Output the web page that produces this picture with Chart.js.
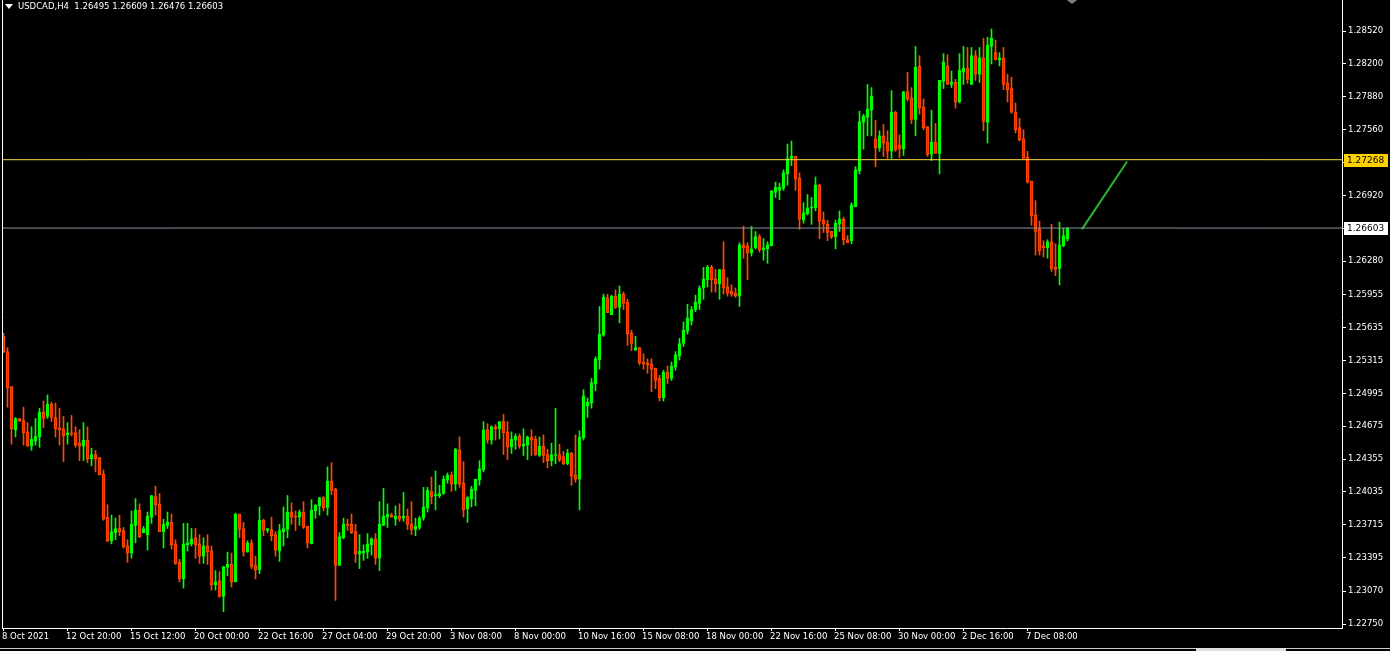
<!DOCTYPE html>
<html>
<head>
<meta charset="utf-8">
<script src="https://cdn.jsdelivr.net/npm/chart.js@4.4.1/dist/chart.umd.min.js"></script>
<style>
  html, body { margin: 0; padding: 0; background: #000; overflow: hidden; }
  #wrap { position: relative; width: 1390px; height: 651px; }
</style>
</head>
<body>
<div id="wrap"><canvas id="chart" width="1390" height="651"></canvas></div>
<script>
const symbolTitle = 'USDCAD,H4';

// H4 candles, oldest first
const opens = [
  1.2555,1.2540,1.2506,1.2464,1.2475,1.2473,1.2462,1.2448,1.2453,1.2457,
  1.2481,1.2477,1.2489,1.2476,1.2466,1.2465,1.2459,1.2461,1.2461,1.2451,
  1.2448,1.2454,1.2436,1.2440,1.2437,1.2421,1.2379,1.2356,1.2364,1.2368,
  1.2366,1.2351,1.2344,1.2371,1.2386,1.2364,1.2362,1.2379,1.2399,1.2392,
  1.2365,1.2371,1.2374,1.2353,1.2335,1.2319,1.2352,1.2353,1.2359,1.2353,
  1.2341,1.2351,1.2346,1.2313,1.2317,1.2302,1.2330,1.2333,1.2316,1.2382,
  1.2368,1.2345,1.2354,1.2332,1.2328,1.2376,1.2366,1.2367,1.2362,1.2346,
  1.2365,1.2367,1.2384,1.2380,1.2379,1.2384,1.2370,1.2353,1.2385,1.2390,
  1.2398,1.2388,1.2414,1.2406,1.2332,1.2359,1.2372,1.2372,1.2365,1.2343,
  1.2344,1.2345,1.2352,1.2358,1.2339,1.2371,1.2379,1.2381,1.2377,1.2380,
  1.2378,1.2380,1.2372,1.2367,1.2369,1.2378,1.2388,1.2404,1.2400,1.2400,
  1.2402,1.2415,1.2420,1.2411,1.2444,1.2412,1.2387,1.2397,1.2405,1.2415,
  1.2425,1.2464,1.2454,1.2467,1.2465,1.2472,1.2462,1.2447,1.2454,1.2458,
  1.2448,1.2449,1.2457,1.2455,1.2439,1.2448,1.2440,1.2434,1.2439,1.2440,
  1.2438,1.2431,1.2441,1.2420,1.2416,1.2456,1.2487,1.2490,1.2509,1.2532,
  1.2556,1.2592,1.2576,1.2594,1.2583,1.2596,1.2588,1.2558,1.2542,1.2544,
  1.2530,1.2529,1.2528,1.2524,1.2514,1.2495,1.2520,1.2514,1.2525,1.2536,
  1.2548,1.2560,1.2570,1.2581,1.2587,1.2602,1.2610,1.2622,1.2611,1.2606,
  1.2620,1.2603,1.2599,1.2597,1.2594,1.2644,1.2643,1.2636,1.2641,1.2652,
  1.2639,1.2640,1.2643,1.2695,1.2697,1.2699,1.2713,1.2728,1.2730,1.2709,
  1.2668,1.2674,1.2680,1.2680,1.2702,1.2668,1.2664,1.2657,1.2652,1.2664,
  1.2669,1.2649,1.2648,1.2681,1.2716,1.2763,1.2768,1.2775,1.2747,1.2738,
  1.2750,1.2744,1.2735,1.2773,1.2741,1.2737,1.2793,1.2787,1.2766,1.2818,
  1.2778,1.2759,1.2732,1.2744,1.2733,1.2803,1.2818,1.2800,1.2802,1.2783,
  1.2812,1.2816,1.2800,1.2828,1.2810,1.2826,1.2763,1.2837,1.2831,1.2824,
  1.2826,1.2801,1.2796,1.2773,1.2758,1.2747,1.2729,1.2706,1.2673,1.2659,
  1.2643,1.2641,1.2647,1.2622,1.2621,1.2643,1.26495
];
const highs = [
  1.2558,1.2544,1.2506,1.2476,1.2475,1.2486,1.2471,1.2467,1.2475,1.2485,
  1.2492,1.2498,1.2491,1.2490,1.2485,1.2477,1.2471,1.2478,1.2467,1.2464,
  1.2471,1.2467,1.2446,1.2444,1.2437,1.2425,1.2391,1.2381,1.2378,1.2381,
  1.2369,1.2357,1.2385,1.2397,1.2392,1.2370,1.2384,1.2400,1.2409,1.2402,
  1.2377,1.2384,1.2382,1.2357,1.2338,1.2373,1.2373,1.2368,1.2368,1.2362,
  1.2359,1.2362,1.2351,1.2327,1.2326,1.2331,1.2345,1.2344,1.2383,1.2382,
  1.2374,1.2356,1.2357,1.2341,1.2389,1.2377,1.2368,1.2379,1.2365,1.2372,
  1.2389,1.2400,1.2393,1.2385,1.2386,1.2394,1.2370,1.2396,1.2391,1.2398,
  1.2399,1.2428,1.2432,1.2407,1.2364,1.2378,1.2377,1.2382,1.2372,1.2362,
  1.2352,1.2363,1.2359,1.2363,1.2394,1.2407,1.2392,1.2383,1.2390,1.2392,
  1.2403,1.2387,1.2394,1.2378,1.2380,1.2408,1.2408,1.2418,1.2424,1.2410,
  1.2419,1.2422,1.2423,1.2446,1.2457,1.2433,1.2399,1.2409,1.2416,1.2434,
  1.2472,1.2470,1.2468,1.2469,1.2472,1.2479,1.2472,1.2462,1.2460,1.2460,
  1.2465,1.2458,1.2464,1.2458,1.2457,1.2459,1.2445,1.2451,1.2485,1.2450,
  1.2443,1.2445,1.2442,1.2459,1.2463,1.2503,1.2495,1.2514,1.2535,1.2584,
  1.2596,1.2596,1.2595,1.2600,1.2604,1.2598,1.2591,1.2561,1.2555,1.2544,
  1.2538,1.2533,1.2533,1.2524,1.2517,1.2522,1.2526,1.2530,1.2540,1.2553,
  1.2569,1.2586,1.2584,1.2595,1.2604,1.2622,1.2624,1.2624,1.2620,1.2620,
  1.2647,1.2612,1.2605,1.2602,1.2646,1.2662,1.2646,1.2662,1.2657,1.2654,
  1.2650,1.2647,1.2697,1.2705,1.2704,1.2717,1.2742,1.2745,1.2730,1.2714,
  1.2685,1.2693,1.2690,1.2710,1.2703,1.2676,1.2668,1.2657,1.2668,1.2677,
  1.2671,1.2653,1.2685,1.2720,1.2774,1.2771,1.2800,1.2797,1.2765,1.2755,
  1.2761,1.2755,1.2794,1.2774,1.2751,1.2793,1.2812,1.2797,1.2837,1.2828,
  1.2786,1.2759,1.2775,1.2762,1.2804,1.2830,1.2829,1.2813,1.2805,1.2830,
  1.2837,1.2836,1.2836,1.2833,1.2836,1.2845,1.2846,1.2854,1.2843,1.2831,
  1.2836,1.2810,1.2807,1.2782,1.2767,1.2756,1.2735,1.2706,1.2687,1.2667,
  1.2648,1.2649,1.2664,1.2645,1.2666,1.2660,1.26609
];
const lows = [
  1.2539,1.2486,1.2450,1.2457,1.2472,1.2449,1.2448,1.2444,1.2449,1.2447,
  1.2466,1.2475,1.2472,1.2457,1.2449,1.2433,1.2450,1.2458,1.2447,1.2434,
  1.2434,1.2432,1.2429,1.2423,1.2420,1.2376,1.2355,1.2353,1.2357,1.2361,
  1.2349,1.2335,1.2339,1.2354,1.2359,1.2364,1.2347,1.2373,1.2381,1.2365,
  1.2349,1.2368,1.2348,1.2333,1.2316,1.2310,1.2346,1.2351,1.2339,1.2334,
  1.2334,1.2333,1.2308,1.2308,1.2301,1.2287,1.2322,1.2311,1.2316,1.2359,
  1.2341,1.2345,1.2329,1.2319,1.2324,1.2361,1.2364,1.2356,1.2341,1.2336,
  1.2351,1.2359,1.2372,1.2366,1.2371,1.2368,1.2349,1.2353,1.2378,1.2381,
  1.2385,1.2381,1.2401,1.2298,1.2332,1.2358,1.2366,1.2363,1.2335,1.2329,
  1.2337,1.2339,1.2342,1.2333,1.2327,1.2371,1.2369,1.2379,1.2371,1.2375,
  1.2375,1.2367,1.2362,1.2361,1.2367,1.2376,1.2384,1.2392,1.2386,1.2398,
  1.2401,1.2412,1.2404,1.2405,1.2408,1.2379,1.2374,1.2389,1.2390,1.2410,
  1.2423,1.2451,1.2450,1.2454,1.2455,1.2440,1.2435,1.2441,1.2445,1.2446,
  1.2439,1.2435,1.2439,1.2439,1.2438,1.2432,1.2427,1.2429,1.2431,1.2433,
  1.2430,1.2430,1.2410,1.2413,1.2386,1.2454,1.2476,1.2485,1.2502,1.2523,
  1.2555,1.2578,1.2576,1.2582,1.2568,1.2581,1.2546,1.2541,1.2541,1.2527,
  1.2523,1.2519,1.2501,1.2504,1.2492,1.2492,1.2509,1.2512,1.2522,1.2532,
  1.2545,1.2557,1.2566,1.2579,1.2581,1.2591,1.2603,1.2598,1.2598,1.2591,
  1.2596,1.2594,1.2594,1.2593,1.2584,1.2631,1.2610,1.2633,1.2640,1.2637,
  1.2629,1.2626,1.2643,1.2690,1.2688,1.2697,1.2702,1.2721,1.2697,1.2659,
  1.2665,1.2673,1.2664,1.2677,1.2650,1.2656,1.2648,1.2650,1.2640,1.2657,
  1.2644,1.2646,1.2645,1.2681,1.2713,1.2737,1.2750,1.2750,1.2720,1.2735,
  1.2730,1.2728,1.2728,1.2735,1.2729,1.2731,1.2784,1.2762,1.2750,1.2771,
  1.2756,1.2730,1.2726,1.2733,1.2713,1.2796,1.2800,1.2797,1.2777,1.2782,
  1.2800,1.2801,1.2800,1.2804,1.2802,1.2755,1.2743,1.2820,1.2824,1.2818,
  1.2795,1.2783,1.2772,1.2753,1.2745,1.2728,1.2704,1.2663,1.2634,1.2634,
  1.2632,1.2631,1.2618,1.2614,1.2605,1.2642,1.26476
];
const closes = [
  1.2540,1.2505,1.2465,1.2475,1.2473,1.2461,1.2448,1.2455,1.2458,1.2481,
  1.2475,1.2489,1.2476,1.2465,1.2464,1.2458,1.2461,1.2460,1.2449,1.2448,
  1.2454,1.2436,1.2440,1.2436,1.2420,1.2377,1.2356,1.2365,1.2368,1.2365,
  1.2350,1.2344,1.2372,1.2386,1.2360,1.2368,1.2380,1.2400,1.2391,1.2365,
  1.2372,1.2374,1.2352,1.2334,1.2319,1.2353,1.2354,1.2358,1.2352,1.2341,
  1.2351,1.2345,1.2313,1.2316,1.2302,1.2331,1.2333,1.2316,1.2382,1.2367,
  1.2345,1.2354,1.2331,1.2328,1.2376,1.2366,1.2368,1.2361,1.2347,1.2366,
  1.2368,1.2384,1.2379,1.2379,1.2384,1.2369,1.2354,1.2386,1.2391,1.2398,
  1.2388,1.2414,1.2405,1.2332,1.2360,1.2372,1.2371,1.2364,1.2343,1.2346,
  1.2346,1.2353,1.2358,1.2339,1.2372,1.2380,1.2382,1.2379,1.2380,1.2377,
  1.2380,1.2372,1.2367,1.2370,1.2378,1.2389,1.2405,1.2399,1.2401,1.2402,
  1.2416,1.2420,1.2411,1.2445,1.2411,1.2386,1.2398,1.2406,1.2416,1.2426,
  1.2464,1.2454,1.2467,1.2465,1.2472,1.2461,1.2447,1.2455,1.2458,1.2448,
  1.2450,1.2457,1.2454,1.2440,1.2448,1.2439,1.2434,1.2440,1.2440,1.2435,
  1.2431,1.2441,1.2419,1.2416,1.2457,1.2497,1.2491,1.2510,1.2533,1.2557,
  1.2593,1.2578,1.2594,1.2583,1.2596,1.2587,1.2557,1.2548,1.2544,1.2529,
  1.2528,1.2527,1.2523,1.2512,1.2495,1.2520,1.2514,1.2526,1.2537,1.2548,
  1.2561,1.2573,1.2581,1.2588,1.2602,1.2611,1.2622,1.2610,1.2606,1.2620,
  1.2602,1.2597,1.2596,1.2594,1.2644,1.2641,1.2636,1.2640,1.2652,1.2639,
  1.2641,1.2644,1.2696,1.2700,1.2700,1.2714,1.2728,1.2730,1.2708,1.2669,
  1.2675,1.2680,1.2681,1.2702,1.2667,1.2664,1.2656,1.2652,1.2665,1.2669,
  1.2649,1.2646,1.2683,1.2717,1.2764,1.2769,1.2776,1.2789,1.2738,1.2750,
  1.2743,1.2735,1.2773,1.2736,1.2737,1.2793,1.2786,1.2766,1.2817,1.2777,
  1.2758,1.2732,1.2744,1.2733,1.2804,1.2822,1.2800,1.2802,1.2783,1.2814,
  1.2816,1.2805,1.2828,1.2810,1.2826,1.2764,1.2838,1.2845,1.2824,1.2826,
  1.2800,1.2795,1.2773,1.2756,1.2746,1.2728,1.2705,1.2672,1.2657,1.2638,
  1.2641,1.2647,1.2621,1.2620,1.2644,1.2653,1.26603
];

const xTickPositions = [0, 16, 32, 48, 64, 80, 96, 112, 128, 144, 160, 176, 192, 208, 224, 240, 256];
const xTickLabels = [
  '8 Oct 2021', '12 Oct 20:00', '15 Oct 12:00', '20 Oct 00:00', '22 Oct 16:00',
  '27 Oct 04:00', '29 Oct 20:00', '3 Nov 08:00', '8 Nov 00:00', '10 Nov 16:00',
  '15 Nov 08:00', '18 Nov 00:00', '22 Nov 16:00', '25 Nov 08:00', '30 Nov 00:00',
  '2 Dec 16:00', '7 Dec 08:00'
];
const yTickValues = [
  1.28520, 1.28200, 1.27880, 1.27560, 1.27240, 1.26920, 1.26600, 1.26280, 1.25955,
  1.25635, 1.25315, 1.24995, 1.24675, 1.24355, 1.24035, 1.23715, 1.23395, 1.23070, 1.22750
];

const levelPrice = 1.27268;
const bidPrice = 1.26603;
const trendX = [269.6, 280.9];
const trendY = [1.2659, 1.2725];

const xMin = -0.375, xMax = 334.625;
const yMin = 1.227116, yMax = 1.28822;

const FONT = 'DejaVu Sans';
const isUp = opens.map((o, i) => closes[i] > o);
const wickColors = isUp.map(u => u ? '#00ff00' : '#ff4a00');
const bodyFill = isUp.map(u => u ? '#00ff00' : '#ff2000');
const bodyBorder = isUp.map(u => u ? '#00ff00' : '#ff5200');

const terminalLook = {
  id: 'terminalLook',
  beforeDraw(chart) {
    const ctx = chart.ctx;
    ctx.save();
    ctx.fillStyle = '#000';
    ctx.fillRect(0, 0, chart.width, chart.height);
    ctx.restore();
  },
  afterDraw(chart) {
    const { ctx, chartArea } = chart;
    const y = chart.scales.y;
    ctx.save();
    // left frame
    ctx.strokeStyle = '#ffffff';
    ctx.lineWidth = 1;
    ctx.beginPath();
    ctx.moveTo(chartArea.left + 0.5, 0);
    ctx.lineTo(chartArea.left + 0.5, chartArea.bottom + 1);
    ctx.stroke();

    // price tags on the right scale
    ctx.font = '9px "' + FONT + '"';
    ctx.textBaseline = 'middle';
    ctx.textAlign = 'left';
    const tag = (price, bg) => {
      const py = Math.round(y.getPixelForValue(price));
      ctx.fillStyle = bg;
      ctx.fillRect(chartArea.right + 2, py - 6, 44, 13);
      ctx.fillStyle = '#000';
      ctx.fillText(price.toFixed(5), chartArea.right + 5, py + 0.5);
    };
    tag(levelPrice, '#ffd000');
    tag(bidPrice, '#ffffff');

    // header
    ctx.fillStyle = '#ffffff';
    ctx.beginPath();
    ctx.moveTo(5, 4); ctx.lineTo(13, 4); ctx.lineTo(9, 9); ctx.closePath();
    ctx.fill();
    ctx.font = '8.5px "' + FONT + '"';
    ctx.fillText(symbolTitle + '  ' + [opens, highs, lows, closes].map(a => a[a.length - 1].toFixed(5)).join(' '), 18, 6.5);

    // chart shift marker
    ctx.fillStyle = '#808080';
    ctx.beginPath();
    ctx.moveTo(1067, 0); ctx.lineTo(1077, 0); ctx.lineTo(1072, 4); ctx.closePath();
    ctx.fill();

    // bottom strip
    ctx.fillStyle = '#c8c8c8';
    ctx.fillRect(0, 648, 1390, 1);
    ctx.fillStyle = '#e0e0e0';
    ctx.fillRect(1196, 648, 90, 3);
    ctx.restore();
  }
};

new Chart(document.getElementById('chart'), {
  type: 'bar',
  data: {
    datasets: [
      {
        type: 'line',
        data: [{ x: xMin, y: levelPrice }, { x: xMax, y: levelPrice }],
        borderColor: '#ffdc40',
        borderWidth: 1,
        pointRadius: 0,
        order: 0
      },
      {
        type: 'line',
        data: [{ x: xMin, y: bidPrice }, { x: xMax, y: bidPrice }],
        borderColor: '#8795a3',
        borderWidth: 1,
        pointRadius: 0,
        order: 0
      },
      {
        type: 'line',
        data: trendX.map((x, i) => ({ x: x, y: trendY[i] })),
        borderColor: '#2db52d',
        borderWidth: 2,
        pointRadius: 0,
        order: 0
      },
      {
        label: 'wicks',
        data: opens.map((o, i) => ({ x: i, y: [lows[i], highs[i]] })),
        backgroundColor: wickColors,
        barThickness: 1,
        grouped: false,
        minBarLength: 1,
        order: 2
      },
      {
        label: 'bodies',
        data: opens.map((o, i) => ({ x: i, y: [o, closes[i]] })),
        backgroundColor: bodyFill,
        borderColor: bodyBorder,
        borderWidth: 1,
        borderSkipped: false,
        barThickness: 3,
        grouped: false,
        minBarLength: 1,
        order: 1
      }
    ]
  },
  options: {
    responsive: false,
    animation: false,
    devicePixelRatio: 1,
    layout: { padding: { left: 2, top: 0, right: 0, bottom: 0 } },
    plugins: { legend: { display: false }, tooltip: { enabled: false } },
    scales: {
      x: {
        type: 'linear',
        offset: false,
        min: xMin,
        max: xMax,
        afterFit(scale) {
          scale.height = 23;
          scale.paddingLeft = 0; scale.paddingRight = 0;
        },
        afterBuildTicks(scale) { scale.ticks = xTickPositions.map(v => ({ value: v })); },
        grid: { display: true, drawOnChartArea: false, drawTicks: true, tickLength: 3, color: '#ffffff', offset: false },
        border: { display: true, color: '#ffffff', width: 1 },
        ticks: {
          autoSkip: false,
          maxRotation: 0,
          minRotation: 0,
          align: 'start',
          padding: 1,
          labelOffset: -1.5,
          color: '#ffffff',
          font: { family: FONT, size: 8.5 },
          callback: (v) => xTickLabels[xTickPositions.indexOf(v)]
        }
      },
      y: {
        position: 'right',
        min: yMin,
        max: yMax,
        afterFit(scale) {
          scale.width = 48;
          scale.paddingTop = 0; scale.paddingBottom = 0;
        },
        afterBuildTicks(scale) { scale.ticks = yTickValues.map(v => ({ value: v })); },
        grid: { display: true, drawOnChartArea: false, drawTicks: true, tickLength: 4, color: '#ffffff' },
        border: { display: true, color: '#ffffff', width: 1 },
        ticks: {
          autoSkip: false,
          padding: 2,
          color: '#ffffff',
          font: { family: FONT, size: 8.5 },
          callback: (v) => v.toFixed(5)
        }
      }
    }
  },
  plugins: [terminalLook]
});
</script>
</body>
</html>
